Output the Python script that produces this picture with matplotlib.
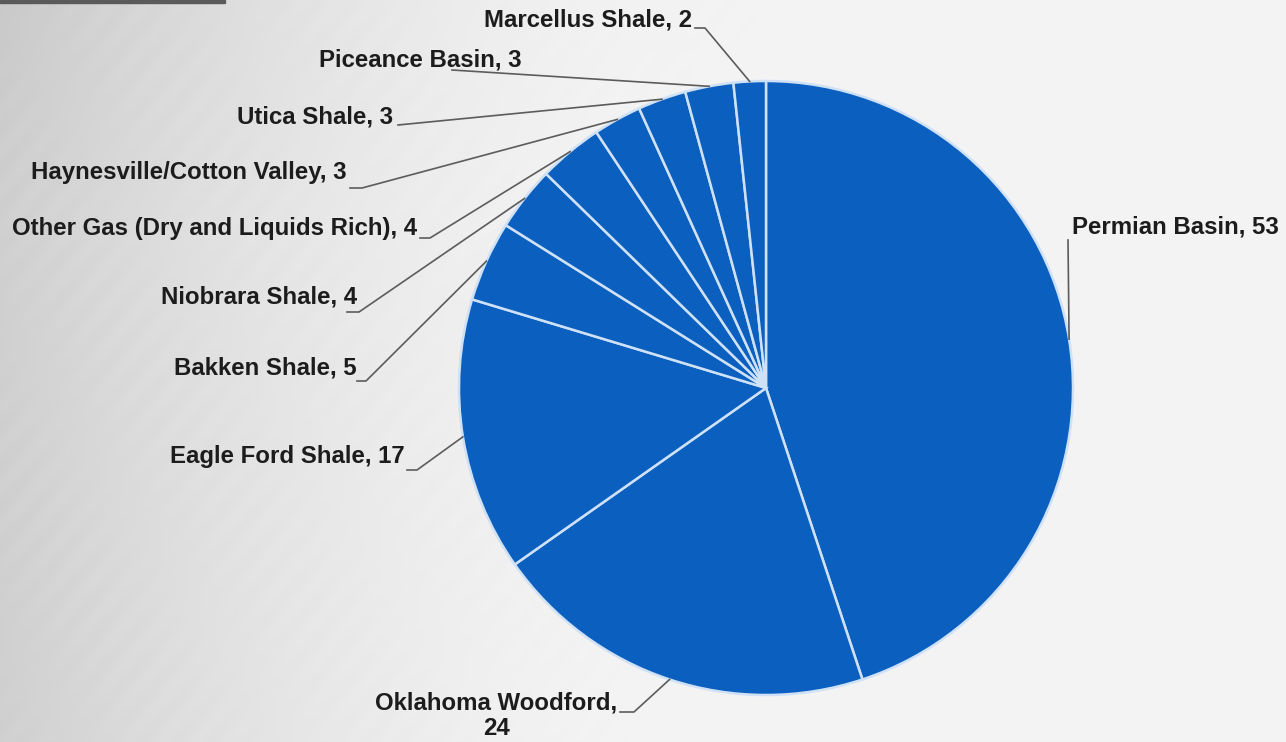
import numpy as np
import matplotlib.pyplot as plt
from matplotlib.patches import Rectangle

# データ (単位: 件数)
labels = ["Permian Basin", "Oklahoma Woodford", "Eagle Ford Shale", "Bakken Shale",
          "Niobrara Shale", "Other Gas (Dry and Liquids Rich)",
          "Haynesville/Cotton Valley", "Utica Shale", "Piceance Basin", "Marcellus Shale"]
values = [53, 24, 17, 5, 4, 4, 3, 3, 3, 2]

W, H = 1286, 742
cx, cy, R = 766, 388, 307          # 円の中心と半径 (ピクセル, 上から)

# ラベル位置: (x, y, ha, 引き出し線の始点x, 始点y, 水平部分の長さ)
label_pos = [
    (1072, 227, "left", 1068, 240, 0),
    (496, 716, "center", 620, 712, 14),
    (405, 457, "right", 407, 470, 10),
    (357, 368, "right", 357, 381, 9),
    (357, 297, "right", 347, 312, 12),
    (417, 228, "right", 420, 238, 10),
    (347, 173, "right", 350, 188, 12),
    (393, 117, "right", 398, 125, 0),
    (522, 60, "right", 452, 70, 0),
    (692, 20, "right", 695, 28, 10),
]

fig = plt.figure(figsize=(W / 100, H / 100), dpi=100)

# 背景 (ブラシ仕上げ風のグレー)
bg = fig.add_axes([0, 0, 1, 1])
gx, gy = np.meshgrid(np.linspace(0, 1, 643), np.linspace(0, 1, 371))
shade = 0.955 - 0.14 * np.clip(1 - gx / 0.5, 0, 1) ** 1.6
shade -= 0.025 * np.clip(1 - gy / 0.3, 0, 1) * np.clip(1 - gx / 0.6, 0, 1)
streak = np.sin((gx * 0.9 + gy * 0.45) * 260) * np.sin((gx * 0.5 - gy * 0.2) * 37)
shade += 0.006 * streak * np.clip(1 - gx / 0.7, 0.3, 1)
bg.imshow(np.dstack([shade] * 3).clip(0, 1), extent=(0, W, H, 0), aspect="auto")
bg.add_patch(Rectangle((0, 0), 225, 3, color="#5a5a5a"))
bg.set_xlim(0, W)
bg.set_ylim(H, 0)
bg.axis("off")

ax = fig.add_axes([0, 0, 1, 1])
ax.patch.set_alpha(0)
wedges, _ = ax.pie(
    values,
    startangle=90,
    counterclock=False,
    colors=["#0a5fbf"] * len(values),
    wedgeprops=dict(edgecolor="#cfe1f6", linewidth=1.8),
    center=(cx, H - cy),
    radius=R,
)
ax.set_xlim(0, W)
ax.set_ylim(0, H)
ax.set_aspect("equal")
ax.axis("off")

font = dict(family="Liberation Sans", weight="bold", size=17.3, color="#1c1c1c")
for w, lab, val, (tx, ty, ha, lx, ly, hl) in zip(wedges, labels, values, label_pos):
    ang = np.deg2rad((w.theta1 + w.theta2) / 2)
    ex = cx + R * np.cos(ang)
    ey = H - cy + R * np.sin(ang)
    if lab == "Oklahoma Woodford":
        txt = lab + ",\n" + str(val)
    else:
        txt = lab + ", " + str(val)
    ax.text(tx, H - ty, txt, ha=ha, va="center", multialignment="center",
            linespacing=1.12, **font)
    xs = [lx, lx + hl, ex]
    ys = [H - ly, H - ly, ey]
    ax.plot(xs, ys, color="#5c5c5c", lw=1.2)

fig.savefig("out.png", dpi=100)
